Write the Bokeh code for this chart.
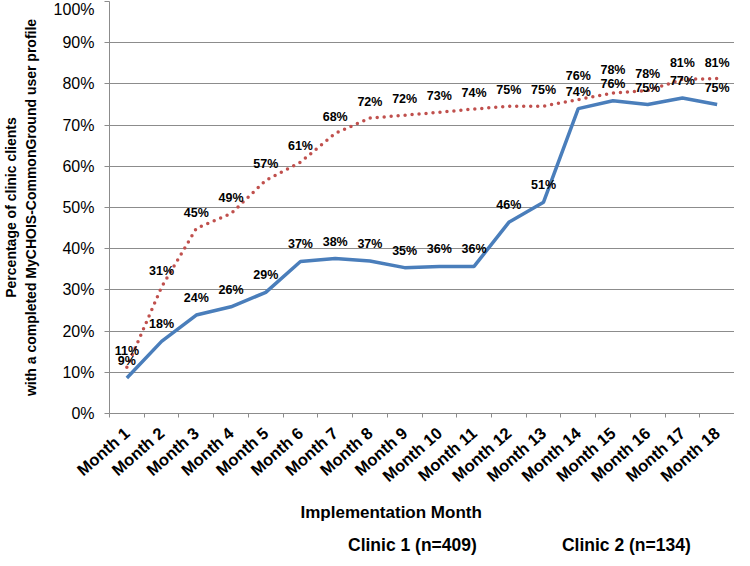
import math
from bokeh.plotting import figure
from bokeh.layouts import column
from bokeh.models import (FixedTicker, Range1d, Legend, LegendItem, Title,
                          PrintfTickFormatter, ColumnDataSource)
from bokeh.core.properties import value
from bokeh.embed import file_html
from bokeh.resources import INLINE

months = [f"Month {i}" for i in range(1, 19)]
month_idx = list(range(1, 19))
clinic1 = [8.6, 17.5, 23.9, 25.9, 29.4, 36.9, 37.6, 37.0, 35.4, 35.7, 35.7, 46.4, 51.3, 74.0, 75.9, 75.0, 76.6, 75.0]
clinic1_labels = ["9%", "18%", "24%", "26%", "29%", "37%", "38%", "37%", "35%", "36%", "36%", "46%", "51%", "74%", "76%", "75%", "77%", "75%"]
clinic2 = [11.2, 30.7, 44.9, 48.5, 56.6, 61.0, 68.0, 71.7, 72.4, 73.1, 73.9, 74.6, 74.6, 76.2, 77.8, 78.4, 81.1, 81.3]
clinic2_labels = ["11%", "31%", "45%", "49%", "57%", "61%", "68%", "72%", "72%", "73%", "74%", "75%", "75%", "76%", "78%", "78%", "81%", "81%"]
y_ticks = [0, 10, 20, 30, 40, 50, 60, 70, 80, 90, 100]
series_names = ["Clinic 1 (n=409)", "Clinic 2 (n=134)"]

# style: extra upward nudge (px) of a few Clinic 2 labels, as placed in the original
clinic2_label_lift = {14: 8, 15: 7}

FONT = "Liberation Sans"
BLUE = "#4A7EBB"
RED = "#C0504D"
GREY = "#8C8C8C"

src1 = ColumnDataSource(dict(x=month_idx, y=clinic1, t=clinic1_labels,
                             off=[-17] * len(month_idx)))
src2 = ColumnDataSource(dict(x=month_idx, y=clinic2, t=clinic2_labels,
                             off=[-16 - clinic2_label_lift.get(m, 0) for m in month_idx]))

p = figure(width=734, height=533, output_backend="svg", toolbar_location=None,
           x_range=Range1d(0.5, 18.5), y_range=Range1d(0, 100),
           min_border_left=104, min_border_right=0, min_border_top=1, min_border_bottom=120)
p.outline_line_color = None
p.background_fill_color = "white"

line_styles = [dict(color=BLUE, line_width=3.5),
               dict(color=RED, line_width=3.5, line_dash="0 7", line_cap="round")]

p.line("x", "y", source=src1, **line_styles[0])
p.line("x", "y", source=src2, **line_styles[1])

for src in (src2, src1):
    p.text("x", "y", text="t", source=src, text_align="center", text_baseline="middle",
           y_offset="off", text_font=value(FONT), text_font_style="bold",
           text_font_size="12.5px", text_color="black")

# axes
p.xgrid.grid_line_color = None
p.ygrid.grid_line_color = GREY
p.ygrid.ticker = FixedTicker(ticks=y_ticks)

yax = p.yaxis[0]
yax.ticker = FixedTicker(ticks=y_ticks)
yax.formatter = PrintfTickFormatter(format="%d%%")
yax.axis_line_color = GREY
yax.major_tick_line_color = GREY
yax.major_tick_out = 5
yax.major_tick_in = 0
yax.minor_tick_line_color = None
yax.major_label_text_font = FONT
yax.major_label_text_font_size = "16px"
yax.major_label_text_color = "black"
yax.major_label_standoff = 10
yax.axis_label = "Percentage of clinic clients\nwith a completed MyCHOIS-CommonGround user profile"
yax.axis_label_text_font = FONT
yax.axis_label_text_font_style = "bold"
yax.axis_label_text_font_size = "14px"
yax.axis_label_text_color = "black"
yax.axis_label_standoff = 12

xax = p.xaxis[0]
xax.ticker = FixedTicker(ticks=month_idx, minor_ticks=[i + 0.5 for i in range(0, 19)])
xax.major_label_overrides = {i: m for i, m in zip(month_idx, months)}
xax.major_label_orientation = 0.72
xax.axis_line_color = GREY
xax.major_tick_line_color = None
xax.major_tick_out = 0
xax.minor_tick_line_color = GREY
xax.minor_tick_out = 4
xax.minor_tick_in = 0
xax.major_label_text_font = FONT
xax.major_label_text_font_style = "bold"
xax.major_label_text_font_size = "16.5px"
xax.major_label_text_color = "black"
xax.major_label_standoff = 13

xtitle = Title(text="Implementation Month", align="left", offset=191,
               text_font=FONT, text_font_style="bold", text_font_size="17px",
               text_color="black", standoff=13)
p.add_layout(xtitle, "below")

# legend strip below the chart (no axes, so its frame spans the whole strip)
leg = figure(width=734, height=25, output_backend="svg", toolbar_location=None,
             x_range=Range1d(0, 1), y_range=Range1d(0, 1),
             x_axis_location=None, y_axis_location=None,
             min_border_left=0, min_border_right=0, min_border_top=0, min_border_bottom=0)
leg.grid.visible = False
leg.outline_line_color = None
lr1 = leg.line([], [], **line_styles[0])
lr2 = leg.line([], [], **line_styles[1])
legend = Legend(items=[LegendItem(label=series_names[0], renderers=[lr1]),
                       LegendItem(label=series_names[1], renderers=[lr2])],
                orientation="horizontal", location=(202, 2),
                label_text_font=FONT, label_text_font_style="bold",
                label_text_font_size="17.5px", label_text_color="black",
                glyph_width=34, label_standoff=3, spacing=48, padding=0,
                border_line_color=None, background_fill_alpha=0, margin=0)
leg.add_layout(legend, "center")

layout = column(p, leg, spacing=0)
open("out.html", "w").write(file_html(layout, INLINE))
